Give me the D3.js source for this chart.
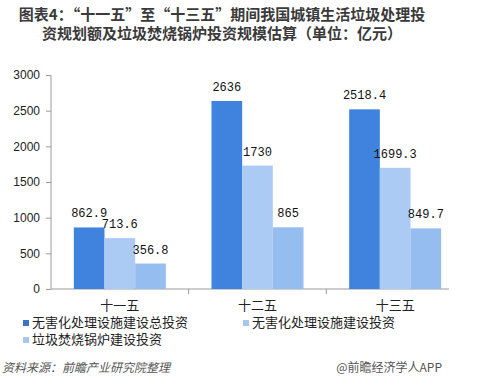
<!DOCTYPE html>
<html><head><meta charset="utf-8">
<script src="https://cdn.jsdelivr.net/npm/d3@7"></script>
<style>body{margin:0;background:#fff;}svg{display:block;}</style>
</head><body>
<script>
const categories = ["十一五", "十二五", "十三五"];
const seriesNames = ["无害化处理设施建设总投资", "无害化处理设施建设投资", "垃圾焚烧锅炉建设投资"];
const totalInvest = [862.9, 2636, 2518.4];
const facilityInvest = [713.6, 1730, 1699.3];
const boilerInvest = [356.8, 865, 849.7];
const valueLabels = [["862.9","2636","2518.4"],["713.6","1730","1699.3"],["356.8","865","849.7"]];
const yTicks = [0, 500, 1000, 1500, 2000, 2500, 3000];
const titleLines = ["图表4：“十一五”至“十三五”期间我国城镇生活垃圾处理投", "资规划额及垃圾焚烧锅炉投资规模估算（单位：亿元）"];
const sourceText = "资料来源：前瞻产业研究院整理";
const brandText = "@前瞻经济学人APP";

const colors = ["#3f83df", "#abcbf4", "#96bdef"];
const legendColors = ["#3b74c2", "#a9c6ec", "#a9c6ec"];
const series = [totalInvest, facilityInvest, boilerInvest];
const cjkFont = "'Liberation Sans', 'Noto Sans CJK SC', sans-serif";

const W = 482, H = 390;
const svg = d3.select("body").append("svg").attr("width", W).attr("height", H);

// title
svg.append("g").selectAll("text").data(titleLines).join("text")
  .attr("x", 222).attr("y", (d,i) => 20 + i*19)
  .attr("text-anchor", "middle")
  .attr("font-family", "'Noto Sans CJK SC', sans-serif")
  .attr("font-weight", "bold").attr("font-size", 15).attr("fill", "#3a3a3a")
  .text(d => d);

const x0 = d3.scaleBand().domain(categories).range([51, 464]);
const x1 = d3.scaleBand().domain(d3.range(3)).range([0, 92]);
const y = d3.scaleLinear().domain([0, 3000]).range([289, 75]);

// y axis
const yAxis = svg.append("g").attr("transform", "translate(51,0)")
  .call(d3.axisLeft(y).tickValues(yTicks).tickSize(5).tickPadding(6).tickFormat(d3.format("d")));
yAxis.selectAll("path,line").attr("stroke", "#9a9a9a");
yAxis.select("path").attr("d", "M0,75V289");
yAxis.selectAll("text").attr("font-family", "'Liberation Sans', Arial, sans-serif").attr("font-size", 12).attr("fill", "#222");

// x axis
const xAxis = svg.append("g").attr("transform", "translate(0,289)")
  .call(d3.axisBottom(x0).tickSize(0).tickPadding(10));
xAxis.select("path").attr("d", "M51,0H449").attr("stroke", "#9a9a9a");
xAxis.selectAll("text").attr("font-family", cjkFont).attr("font-size", 13).attr("fill", "#222")
  .attr("dy", 0).attr("y", 21);
// category separator ticks
svg.append("g").selectAll("line").data(categories.slice(1)).join("line")
  .attr("x1", d => x0(d)).attr("x2", d => x0(d))
  .attr("y1", 289).attr("y2", 294).attr("stroke", "#9a9a9a");

// bars
const groups = svg.append("g").selectAll("g").data(categories).join("g")
  .attr("transform", d => `translate(${x0(d) + (x0.bandwidth() - 92)/2},0)`);
series.forEach((s, si) => {
  groups.append("rect")
    .attr("x", x1(si)).attr("width", x1.bandwidth())
    .attr("y", (d, ci) => y(s[ci])).attr("height", (d, ci) => y(0) - y(s[ci]))
    .attr("fill", colors[si]);
  groups.append("text")
    .attr("x", x1(si) + x1.bandwidth()/2).attr("y", (d, ci) => y(s[ci]) - 10)
    .attr("text-anchor", "middle")
    .attr("font-family", "'Liberation Mono', 'DejaVu Sans Mono', monospace")
    .attr("font-size", 12).attr("fill", "#111")
    .text((d, ci) => valueLabels[si][ci]);
});

// legend
const legendPos = [[23, 327], [243, 327], [23, 344]];
const lg = svg.append("g").selectAll("g").data(seriesNames).join("g")
  .attr("transform", (d,i) => `translate(${legendPos[i][0]},${legendPos[i][1]})`);
lg.append("rect").attr("x", 0).attr("y", -7).attr("width", 6).attr("height", 6)
  .attr("fill", (d,i) => legendColors[i]);
lg.append("text").attr("x", 9).attr("y", 0)
  .attr("font-family", cjkFont).attr("font-size", 13).attr("fill", "#222")
  .text(d => d);

// footer
svg.append("text").attr("x", 2).attr("y", 372)
  .attr("font-family", "'Noto Sans CJK SC', sans-serif").attr("font-size", 12)
  .attr("font-style", "italic").attr("fill", "#555")
  .text(sourceText);
svg.append("text").attr("x", 442).attr("y", 372).attr("text-anchor", "end")
  .attr("font-family", "'Noto Sans CJK SC', sans-serif").attr("font-size", 12)
  .attr("fill", "#555")
  .text(brandText);
</script>
</body></html>
